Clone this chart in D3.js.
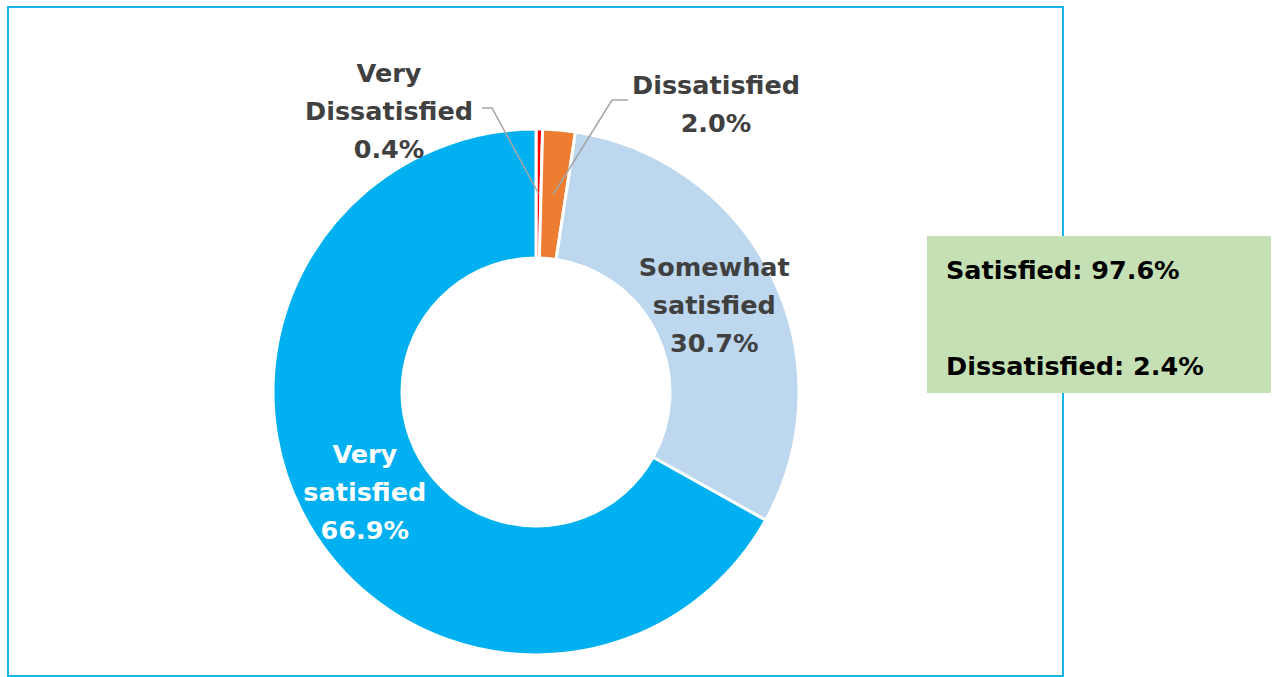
<!DOCTYPE html>
<html>
<head>
<meta charset="utf-8">
<script src="https://d3js.org/d3.v7.min.js"></script>
<style>
  body { margin: 0; background: #fff; }
  svg text { font-family: "DejaVu Sans", "Lato", sans-serif; font-weight: bold; }
</style>
</head>
<body>
<svg id="chart" width="1277" height="677"></svg>
<script>
// slices, clockwise from 12 o'clock
var categories = ["Very Dissatisfied", "Dissatisfied", "Somewhat satisfied", "Very satisfied"];
var values = [0.4, 2.0, 30.7, 66.9];
var colors = ["#ff0000", "#ed7d31", "#bdd7ee", "#00b0f0"];
var labelLines = [["Very", "Dissatisfied", "0.4%"], ["Dissatisfied", "2.0%"], ["Somewhat", "satisfied", "30.7%"], ["Very", "satisfied", "66.9%"]];
var summary = ["Satisfied: 97.6%", "Dissatisfied: 2.4%"];

var svg = d3.select("#chart");
var cx = 536, cy = 392, outerR = 263, innerR = 134;

// frame
svg.append("rect")
  .attr("x", 8).attr("y", 7).attr("width", 1055).attr("height", 669)
  .attr("fill", "none").attr("stroke", "#13b5ea").attr("stroke-width", 2);

var pie = d3.pie().sort(null).value(function(d) { return d; });
var arc = d3.arc().innerRadius(innerR).outerRadius(outerR);
var arcs = pie(values);

var g = svg.append("g").attr("transform", "translate(" + cx + "," + cy + ")");

g.selectAll("path").data(arcs).enter().append("path")
  .attr("d", arc)
  .attr("fill", function(d, i) { return colors[i]; })
  .attr("stroke", "#fff").attr("stroke-width", 3);

// label anchor points (relative to centre); small slices get leader lines
var labelPos = [
  {x: -147, y: -319, line: [[-54, -284], [-44, -284]]},
  {x: 180, y: -307, line: [[92, -292], [76, -292]]},
  null, null
];
var lineH = 38;

arcs.forEach(function(a, i) {
  var c = arc.centroid(a);
  var p = labelPos[i];
  var tx, ty, fill;
  if (p) {
    tx = p.x; ty = p.y; fill = "#404040";
    var pts = [p.line[0], p.line[1], c];
    g.append("path")
      .attr("d", d3.line()(pts))
      .attr("fill", "none").attr("stroke", "#a6a6a6").attr("stroke-width", 1.5);
  } else {
    tx = c[0]; ty = c[1] - (labelLines[i].length - 1) * lineH / 2;
    fill = i == 3 ? "#ffffff" : "#404040";
  }
  var t = g.append("text")
    .attr("text-anchor", "middle")
    .attr("font-size", 25.5)
    .attr("fill", fill);
  labelLines[i].forEach(function(s, k) {
    t.append("tspan").attr("x", tx).attr("y", ty + k * lineH).attr("dy", "0.35em").text(s);
  });
});

// summary box
svg.append("rect")
  .attr("x", 927).attr("y", 236).attr("width", 344).attr("height", 157)
  .attr("fill", "#c5e0b4");
svg.selectAll("text.sum").data(summary).enter().append("text")
  .attr("class", "sum")
  .attr("x", 946)
  .attr("y", function(d, i) { return 279 + i * 96; })
  .attr("font-size", 25.5)
  .attr("fill", "#000")
  .text(function(d) { return d; });
</script>
</body>
</html>
